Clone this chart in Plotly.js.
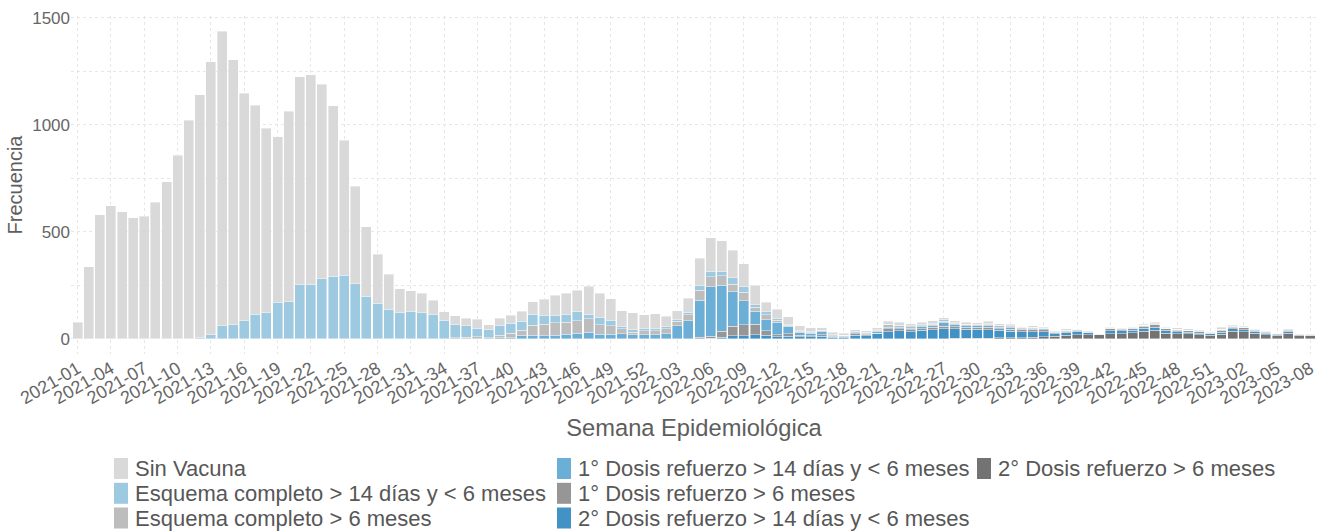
<!DOCTYPE html>
<html>
<head>
<meta charset="utf-8">
<script src="https://cdn.plot.ly/plotly-3.0.1.min.js"></script>
<style>html,body{margin:0;padding:0;background:#fff;}#chart{width:1328px;height:531px;}</style>
</head>
<body>
<div id="chart"></div>
<script>
const weeks = [
 "2021-01","2021-02","2021-03","2021-04","2021-05","2021-06","2021-07","2021-08","2021-09","2021-10","2021-11","2021-12","2021-13",
 "2021-14","2021-15","2021-16","2021-17","2021-18","2021-19","2021-20","2021-21","2021-22","2021-23","2021-24","2021-25","2021-26",
 "2021-27","2021-28","2021-29","2021-30","2021-31","2021-32","2021-33","2021-34","2021-35","2021-36","2021-37","2021-38","2021-39",
 "2021-40","2021-41","2021-42","2021-43","2021-44","2021-45","2021-46","2021-47","2021-48","2021-49","2021-50","2021-51","2021-52",
 "2022-01","2022-02","2022-03","2022-04","2022-05","2022-06","2022-07","2022-08","2022-09","2022-10","2022-11","2022-12","2022-13",
 "2022-14","2022-15","2022-16","2022-17","2022-18","2022-19","2022-20","2022-21","2022-22","2022-23","2022-24","2022-25","2022-26",
 "2022-27","2022-28","2022-29","2022-30","2022-31","2022-32","2022-33","2022-34","2022-35","2022-36","2022-37","2022-38","2022-39",
 "2022-40","2022-41","2022-42","2022-43","2022-44","2022-45","2022-46","2022-47","2022-48","2022-49","2022-50","2022-51","2022-52",
 "2023-01","2023-02","2023-03","2023-04","2023-05","2023-06","2023-07","2023-08"
];
const tickWeeks = [
 "2021-01","2021-04","2021-07","2021-10","2021-13","2021-16","2021-19","2021-22","2021-25","2021-28","2021-31","2021-34",
 "2021-37","2021-40","2021-43","2021-46","2021-49","2021-52","2022-03","2022-06","2022-09","2022-12","2022-15","2022-18",
 "2022-21","2022-24","2022-27","2022-30","2022-33","2022-36","2022-39","2022-42","2022-45","2022-48","2022-51",
 "2023-02","2023-05","2023-08"
];

// Sin Vacuna
const sinVacuna = [
 76,335,578,621,592,565,573,638,733,857,1020,
 1136,1274,1377,1239,1062,975,863,773,890,
 972,982,908,796,630,457,323,228,164,113,
 98,92,68,41,41,36,42,22,34,39,
 46,59,76,94,98,101,132,113,101,73,
 79,65,69,48,43,69,129,157,142,129,
 107,92,45,45,36,24,18,10,11,9,
 9,7,8,13,13,11,11,13,11,9,
 8,6,11,8,8,4,6,6,3,5,
 3,3,1,3,3,4,5,6,4,6,
 5,5,2,9,6,4,4,2,2,3,
 2,2
];
// Esquema completo > 14 días y < 6 meses
const esqCompleto14 = [
 0,0,0,0,0,0,0,0,0,0,
 0,5,19,59,65,84,115,121,171,172,
 252,252,280,292,297,256,199,166,137,121,
 126,121,112,85,60,53,40,38,46,45,
 42,51,41,36,37,42,20,34,24,12,
 12,10,10,9,6,8,22,25,22,29,
 25,12,14,7,3,3,3,3,1,1,
 2,2,4,4,4,4,4,4,6,4,
 3,3,4,3,3,2,2,2,1,1,
 1,1,0,1,1,1,1,1,1,1,
 1,1,0,1,1,1,1,0,0,0,
 0,0
];
// Esquema completo > 6 meses
const esqCompleto6 = [
 0,0,0,0,0,0,0,0,0,0,
 0,0,0,0,0,0,0,0,0,0,
 0,0,0,0,0,0,0,0,0,0,
 0,0,0,0,5,6,8,4,13,21,
 23,46,54,57,56,59,63,44,41,22,
 13,18,18,24,20,28,45,48,43,36,
 40,19,25,10,5,4,4,4,2,2,
 3,2,4,11,6,6,6,6,8,6,
 5,5,6,5,5,3,3,3,2,2,
 2,1,0,2,2,2,2,2,1,2,
 1,1,1,2,2,1,1,1,1,1,
 0,0
];
// 1° Dosis refuerzo > 14 días y < 6 meses
const dosis1_14 = [
 0,0,0,0,0,0,0,0,0,0,
 0,0,0,0,0,0,0,0,0,0,
 0,0,0,0,0,0,0,0,0,0,
 0,0,0,0,0,0,0,0,3,5,
 16,16,14,16,20,25,30,20,20,23,
 17,19,19,23,61,84,174,231,216,162,
 113,59,50,57,34,14,12,14,5,3,
 6,6,8,8,8,8,8,9,16,10,
 8,7,8,7,7,4,5,4,2,2,
 2,1,0,2,2,2,2,3,1,2,
 1,2,1,2,2,1,1,1,0,1,
 0,0
];
// 1° Dosis refuerzo > 6 meses
const dosis1_6 = [
 0,0,0,0,0,0,0,0,0,0,
 0,0,0,0,0,0,0,0,0,0,
 0,0,0,0,0,0,0,0,0,0,
 0,0,0,0,0,0,0,0,0,0,
 0,0,0,0,0,0,0,0,0,0,
 0,0,0,0,0,0,6,9,28,43,
 50,49,21,11,12,8,6,8,4,3,
 7,6,4,12,8,8,9,10,12,10,
 9,9,10,9,9,10,11,10,5,6,
 5,3,0,8,7,7,9,10,8,8,
 7,7,4,9,9,8,6,5,3,6,
 1,2
];
// 2° Dosis refuerzo > 14 días y < 6 meses
const dosis2_14 = [
 0,0,0,0,0,0,0,0,0,0,
 0,0,0,0,0,0,0,0,0,0,
 0,0,0,0,0,0,0,0,0,0,
 0,0,0,0,0,0,0,0,0,0,
 0,0,0,0,0,0,0,0,0,0,
 0,0,0,0,0,0,0,2,6,14,
 14,19,16,8,11,8,8,11,7,7,
 15,14,22,33,37,33,38,42,45,44,
 42,41,40,35,32,28,26,22,11,14,
 15,10,2,15,13,12,14,16,13,9,
 8,7,6,10,11,11,8,6,4,8,
 1,2
];
// 2° Dosis refuerzo > 6 meses
const dosis2_6 = [
 0,0,0,0,0,0,0,0,0,0,
 0,0,0,0,0,0,0,0,0,0,
 0,0,0,0,0,0,0,0,0,0,
 0,0,0,0,0,0,0,0,0,0,
 0,0,0,0,0,0,0,0,0,0,
 0,0,0,0,0,0,0,0,0,0,
 0,0,0,0,0,0,0,0,0,0,
 0,0,0,0,0,0,0,0,0,1,
 1,2,2,3,3,5,7,9,12,15,
 19,17,17,22,23,28,35,38,26,22,
 22,19,16,20,34,31,26,19,16,26,
 16,14
];

const seriesNames = [
 "Sin Vacuna",
 "Esquema completo > 14 días y < 6 meses",
 "Esquema completo > 6 meses",
 "1° Dosis refuerzo > 14 días y < 6 meses",
 "1° Dosis refuerzo > 6 meses",
 "2° Dosis refuerzo > 14 días y < 6 meses",
 "2° Dosis refuerzo > 6 meses"
];
const seriesColors = ["#d9d9d9","#9ecae1","#bdbdbd","#6baed6","#969696","#4292c6","#737373"];
const seriesValues = [sinVacuna, esqCompleto14, esqCompleto6, dosis1_14, dosis1_6, dosis2_14, dosis2_6];

// stack bottom-up: last series first
const traces = [];
for (let i = seriesValues.length - 1; i >= 0; i--) {
  traces.push({
    type: "bar",
    name: seriesNames[i],
    x: weeks,
    y: seriesValues[i],
    marker: {color: seriesColors[i], line: {color: "#ffffff", width: 0.4}},
    hovertemplate: "%{x}: %{y}<extra>" + seriesNames[i] + "</extra>"
  });
}

// ---- page geometry (pixels) ----
const W = 1328, H = 531;
const M = {l: 71, r: 11, t: 16, b: 177};
const plotW = W - M.l - M.r, plotH = H - M.t - M.b;
const px2x = px => (px - M.l) / plotW;
const px2y = py => (H - M.b - py) / plotH;

// legend laid out in three columns like the reference (ggplot style keys)
const legendColLeft = [114, 557, 977];
const legendRowMid = [468.5, 493.3, 518];
const legendCol = [0, 0, 0, 1, 1, 1, 2];
const legendRow = [0, 1, 2, 0, 1, 2, 0];
const keyW = 14, keyH = 21, keyGap = 6;

const shapes = [], annotations = [];
for (let i = 0; i < seriesNames.length; i++) {
  const left = legendColLeft[legendCol[i]];
  const mid = legendRowMid[legendRow[i]];
  shapes.push({
    type: "rect", xref: "paper", yref: "paper",
    x0: px2x(left), x1: px2x(left + keyW),
    y0: px2y(mid + keyH / 2), y1: px2y(mid - keyH / 2),
    fillcolor: seriesColors[i], line: {width: 0}, layer: "above"
  });
  annotations.push({
    xref: "paper", yref: "paper",
    x: px2x(left + keyW + keyGap), y: px2y(mid),
    xanchor: "left", yanchor: "middle", showarrow: false,
    text: seriesNames[i], borderpad: 0,
    font: {size: 22, color: "#575757", family: "Liberation Sans, Arial, sans-serif"}
  });
}

const gridC = "#e6e6e6";
const layout = {
  width: W, height: H,
  margin: {l: M.l, r: M.r, t: M.t, b: M.b, autoexpand: false},
  paper_bgcolor: "#ffffff", plot_bgcolor: "#ffffff",
  barmode: "stack", bargap: 0.1,
  showlegend: false,
  font: {family: "Liberation Sans, Arial, sans-serif", color: "#5e5e5e"},
  xaxis: {
    type: "category", categoryorder: "array", categoryarray: weeks,
    range: [-0.6, weeks.length - 0.4],
    tickmode: "array", tickvals: tickWeeks, ticktext: tickWeeks,
    tickangle: -30, tickfont: {size: 18, color: "#666666"},
    showgrid: true, gridcolor: gridC, griddash: "dot", gridwidth: 1,
    ticks: "", showline: false, zeroline: false, automargin: false,
    title: {text: "Semana Epidemiológica", font: {size: 23.7, color: "#5e5e5e"}, standoff: 12}
  },
  yaxis: {
    range: [-72, 1508], tick0: 0, dtick: 500,
    tickfont: {size: 17, color: "#666666"},
    showgrid: true, gridcolor: gridC, griddash: "dot", gridwidth: 1,
    minor: {dtick: 250, tick0: 0, showgrid: true, gridcolor: gridC, griddash: "dot", gridwidth: 1, ticks: ""},
    ticks: "", showline: false, zeroline: false, automargin: false,
    title: {text: "Frecuencia", font: {size: 20, color: "#5e5e5e"}, standoff: 4}
  },
  shapes: shapes,
  annotations: annotations
};

Plotly.newPlot("chart", traces, layout, {displayModeBar: false, staticPlot: true});
</script>
</body>
</html>
